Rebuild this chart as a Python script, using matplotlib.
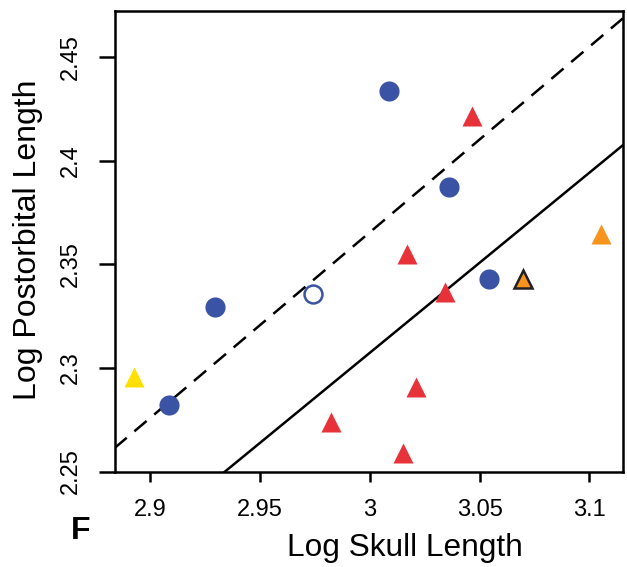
import matplotlib
matplotlib.use("Agg")
import matplotlib.pyplot as plt
import numpy as np

plt.rcParams['font.family'] = ['Liberation Sans', 'DejaVu Sans']

# Data
blue_x = [3.0086, 3.0359, 3.0545, 2.9295, 2.9086]
blue_y = [2.4336, 2.3872, 2.3428, 2.3292, 2.2819]
open_x = [2.9741]
open_y = [2.3355]
red_x = [3.0464, 3.0168, 3.0341, 3.0209, 2.9823, 3.0150]
red_y = [2.4215, 2.3548, 2.3365, 2.2906, 2.2737, 2.2587]
yellow_x = [2.8927]
yellow_y = [2.2954]
orange_x = [3.1055]
orange_y = [2.3645]
orange_edge_x = [3.0700]
orange_edge_y = [2.3428]

dashed_slope, dashed_int = 0.8965, 2.2613 - 0.8965 * 2.8838
solid_slope, solid_int = 0.870, 2.25 - 0.870 * 2.93415

x_ticks = [2.9, 2.95, 3.0, 3.05, 3.1]
x_ticklabels = ['2.9', '2.95', '3', '3.05', '3.1']
y_ticks = [2.25, 2.3, 2.35, 2.4, 2.45]
y_ticklabels = ['2.25', '2.3', '2.35', '2.4', '2.45']

W, H = 627, 567
L, R, T, B = 114.5, 623, 10.5, 471.5
fig = plt.figure(figsize=(W / 100, H / 100), dpi=100)
ax = fig.add_axes([L / W, 1 - B / H, (R - L) / W, (B - T) / H])
xlim = (2.8838, 3.1153)
ylim = (2.25, 2.4726)
ax.set_xlim(*xlim)
ax.set_ylim(*ylim)

xs = np.array(xlim)
ax.plot(xs, dashed_int + dashed_slope * xs, color='black', lw=1.8,
        linestyle=(0, (6.4, 4)), zorder=2)
ax.plot(xs, solid_int + solid_slope * xs, color='black', lw=1.8, zorder=2)

ms = 14.5
blue = '#3A53A4'
red = '#E8323A'
yellow = '#FFE000'
orange = '#F7941D'
ax.plot(blue_x, blue_y, 'o', ms=ms, color=blue, mec='none', zorder=3)
ax.plot(open_x, open_y, 'o', ms=ms - 1.6, mfc='white', mec=blue, mew=1.8, zorder=3)
ax.plot(red_x, red_y, '^', ms=ms, color=red, mec='none', zorder=3)
ax.plot(yellow_x, yellow_y, '^', ms=ms, color=yellow, mec='none', zorder=3)
ax.plot(orange_x, orange_y, '^', ms=ms, color=orange, mec='none', zorder=3)
ax.plot(orange_edge_x, orange_edge_y, '^', ms=ms - 2, mfc=orange, mec='#231F20', mew=1.8, zorder=3)

for s in ax.spines.values():
    s.set_linewidth(1.8)

ax.set_xticks(x_ticks)
ax.set_xticklabels(x_ticklabels, fontsize=17)
ax.set_yticks(y_ticks)
ax.set_yticklabels(y_ticklabels, fontsize=17, rotation=90, va='center')
ax.tick_params(axis='x', length=7, width=1.8, pad=12.5)
ax.tick_params(axis='y', length=11.5, width=1.8, pad=12)

ax.set_xlabel('Log Skull Length', fontsize=22.8)
ax.xaxis.set_label_coords((405 - L) / (R - L), (B - 563) / (B - T))
ax.xaxis.label.set_va('bottom')
ax.set_ylabel('Log Postorbital Length', fontsize=23)
ax.yaxis.set_label_coords((43 - L) / (R - L), (B - 240) / (B - T))

fig.text(81 / W, 1 - 531 / H, 'F', fontsize=23, fontweight='bold', ha='center', va='center')

fig.savefig('out.png', dpi=100)
